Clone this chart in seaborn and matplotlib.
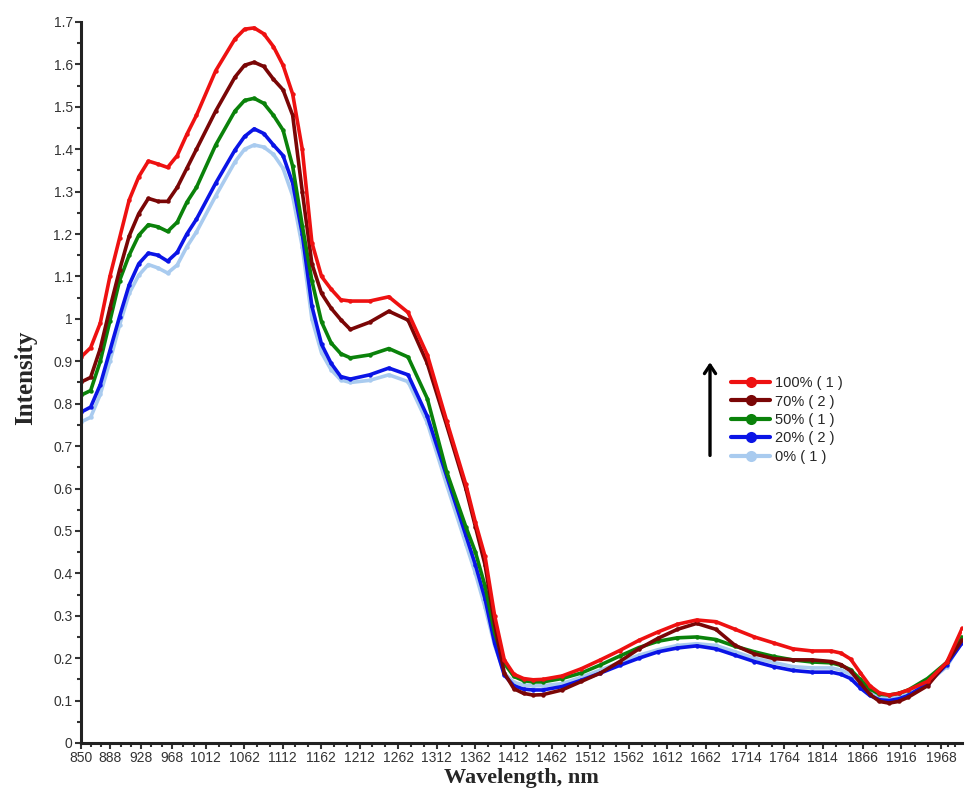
import pandas as pd
import seaborn as sns
import matplotlib.pyplot as plt
from matplotlib.lines import Line2D
from matplotlib.patches import FancyArrowPatch

# --- data ---
wavelength = [850, 862.5, 875, 887.5, 900, 912.5, 925, 937.5, 950, 962.5, 975, 987.5,
              1000, 1025, 1050, 1062.5, 1075, 1087.5, 1100, 1112.5, 1125, 1137.5,
              1150, 1162.5, 1175, 1187.5, 1200, 1225, 1250, 1275, 1300, 1325, 1350,
              1362.5, 1375, 1387.5, 1400, 1412.5, 1425, 1437.5, 1450, 1475, 1500,
              1525, 1550, 1575, 1600, 1625, 1650, 1675, 1700, 1725, 1750, 1775, 1800,
              1825, 1837.5, 1850, 1862.5, 1875, 1887.5, 1900, 1912.5, 1925, 1950,
              1975, 1995]

conc_100 = [0.910, 0.932, 0.990, 1.100, 1.190, 1.280, 1.335, 1.372, 1.365, 1.357, 1.385, 1.435,
            1.480, 1.585, 1.660, 1.683, 1.686, 1.672, 1.642, 1.598, 1.530, 1.400,
            1.180, 1.100, 1.070, 1.045, 1.042, 1.042, 1.052, 1.015, 0.915, 0.760, 0.610,
            0.520, 0.440, 0.300, 0.196, 0.162, 0.152, 0.149, 0.150, 0.158, 0.175,
            0.196, 0.218, 0.242, 0.262, 0.280, 0.290, 0.286, 0.268, 0.250, 0.236, 0.222, 0.217,
            0.217, 0.212, 0.198, 0.166, 0.135, 0.118, 0.113, 0.117, 0.125, 0.145,
            0.190, 0.270]
conc_70 = [0.851, 0.862, 0.930, 1.025, 1.115, 1.195, 1.248, 1.284, 1.277, 1.277, 1.310, 1.355,
           1.400, 1.490, 1.570, 1.598, 1.605, 1.595, 1.565, 1.540, 1.480, 1.300,
           1.130, 1.060, 1.025, 0.998, 0.975, 0.992, 1.018, 0.997, 0.895, 0.750, 0.600,
           0.510, 0.420, 0.280, 0.165, 0.128, 0.117, 0.113, 0.114, 0.125, 0.145,
           0.165, 0.192, 0.222, 0.247, 0.268, 0.282, 0.268, 0.230, 0.210, 0.199, 0.196, 0.196,
           0.192, 0.185, 0.170, 0.142, 0.115, 0.098, 0.094, 0.098, 0.108, 0.135,
           0.190, 0.243]
conc_50 = [0.820, 0.831, 0.900, 0.995, 1.090, 1.150, 1.197, 1.222, 1.217, 1.206, 1.228, 1.275,
           1.310, 1.410, 1.490, 1.515, 1.520, 1.508, 1.480, 1.445, 1.360, 1.220,
           1.090, 0.993, 0.943, 0.918, 0.908, 0.915, 0.930, 0.910, 0.812, 0.640, 0.510,
           0.450, 0.370, 0.260, 0.188, 0.157, 0.147, 0.144, 0.144, 0.152, 0.165,
           0.184, 0.205, 0.225, 0.240, 0.248, 0.250, 0.244, 0.228, 0.215, 0.204, 0.196, 0.191,
           0.189, 0.183, 0.173, 0.150, 0.128, 0.115, 0.113, 0.117, 0.125, 0.152,
           0.190, 0.250]
conc_20 = [0.780, 0.792, 0.845, 0.925, 1.005, 1.080, 1.130, 1.155, 1.150, 1.136, 1.157, 1.200,
           1.235, 1.320, 1.398, 1.430, 1.448, 1.437, 1.410, 1.385, 1.320, 1.200,
           1.030, 0.940, 0.895, 0.864, 0.858, 0.868, 0.884, 0.868, 0.770, 0.630, 0.490,
           0.420, 0.340, 0.235, 0.160, 0.135, 0.127, 0.125, 0.125, 0.133, 0.148,
           0.165, 0.183, 0.200, 0.215, 0.224, 0.229, 0.222, 0.207, 0.192, 0.180, 0.171, 0.167,
           0.167, 0.162, 0.152, 0.130, 0.112, 0.102, 0.100, 0.104, 0.112, 0.140,
           0.185, 0.236]
conc_0 = [0.757, 0.768, 0.822, 0.900, 0.985, 1.060, 1.103, 1.128, 1.120, 1.108, 1.127, 1.170,
          1.205, 1.290, 1.370, 1.400, 1.410, 1.405, 1.388, 1.355, 1.290, 1.170,
          1.000, 0.920, 0.880, 0.856, 0.850, 0.855, 0.868, 0.852, 0.755, 0.610, 0.470,
          0.400, 0.320, 0.230, 0.165, 0.143, 0.137, 0.135, 0.135, 0.140, 0.155,
          0.172, 0.190, 0.207, 0.220, 0.230, 0.234, 0.230, 0.215, 0.200, 0.190, 0.180, 0.177,
          0.177, 0.172, 0.162, 0.140, 0.120, 0.110, 0.107, 0.110, 0.116, 0.142,
          0.180, 0.240]

series_names = ['0% ( 1 )', '20% ( 2 )', '50% ( 1 )', '70% ( 2 )', '100% ( 1 )']
series_values = [conc_0, conc_20, conc_50, conc_70, conc_100]
series_colors = ['#a9cbef', '#0a14e6', '#0a820a', '#7a0606', '#ee1111']

tick_labels = [850, 888, 928, 968, 1012, 1062, 1112, 1162, 1212, 1262, 1312, 1362,
               1412, 1462, 1512, 1562, 1612, 1662, 1714, 1764, 1814, 1866, 1916, 1968]

# long-form table for seaborn
frames = []
for name, vals in zip(series_names, series_values):
    frames.append(pd.DataFrame({'Wavelength': wavelength, 'Intensity': vals, 'Sample': name}))
df = pd.concat(frames, ignore_index=True)

sns.set_style('white')
plt.rcParams['font.family'] = ['Liberation Sans', 'DejaVu Sans']

fig = plt.figure(figsize=(9.66, 7.9), dpi=100)
ax = fig.add_axes([0.0839, 0.0595, 0.9121, 0.9127])

palette = dict(zip(series_names, series_colors))
sns.lineplot(data=df, x='Wavelength', y='Intensity', hue='Sample', palette=palette,
             hue_order=series_names, marker='o', markersize=3.2, markeredgewidth=0,
             linewidth=2.6, legend=False, ax=ax, sort=False)

ax.set_xlim(850, 1995)
ax.set_ylim(0, 1.7)

# y ticks
yt = [round(0.1 * i, 1) for i in range(18)]
ax.set_yticks(yt)
ax.set_yticklabels(['0' if v == 0 else ('1' if v == 1 else f'{v:.1f}') for v in yt])
ax.set_yticks([0.05 + 0.1 * i for i in range(17)], minor=True)

# x ticks: labelled points plus two small ticks between them
ax.set_xticks(tick_labels)
ax.set_xticklabels([str(t) for t in tick_labels])
minor_x = []
for a, b in zip(tick_labels[:-1], tick_labels[1:]):
    minor_x += [a + (b - a) / 3, a + 2 * (b - a) / 3]
minor_x += [1968 + 9, 1968 + 18]
ax.set_xticks(minor_x, minor=True)

ax.tick_params(axis='both', which='major', direction='out', length=4, width=1.5,
               color='#333333', labelsize=10, labelcolor='#333333', pad=2,
               left=True, bottom=True)
ax.tick_params(axis='both', which='minor', direction='out', length=3, width=1.5,
               color='#333333', left=True, bottom=True)

for side in ['top', 'right']:
    ax.spines[side].set_visible(False)
for side in ['left', 'bottom']:
    ax.spines[side].set_linewidth(2.2)
    ax.spines[side].set_color('#222222')

ax.set_xlabel('Wavelength, nm', fontsize=16, fontweight='bold', family='Liberation Serif')
ax.set_ylabel('Intensity', fontsize=18, fontweight='bold', family='Liberation Serif')
ax.xaxis.set_label_coords(0.5, -0.034)
ax.yaxis.set_label_coords(-0.05, 0.506)

# legend, highest concentration on top
handles = []
for name, color in zip(series_names[::-1], series_colors[::-1]):
    handles.append(Line2D([0], [0], color=color, lw=3, marker='o', markersize=8,
                          markeredgewidth=0))
ax.legend(handles, series_names[::-1], loc='upper left', bbox_to_anchor=(0.749, 0.533),
          bbox_transform=fig.transFigure, frameon=False, fontsize=10.5, handlelength=2.7,
          handletextpad=0.3, labelspacing=0.3, borderpad=0)

# arrow pointing up next to the legend
fig.patches.append(FancyArrowPatch(
    (0.735, 0.42), (0.735, 0.545), transform=fig.transFigure,
    arrowstyle='->,head_width=4,head_length=6', lw=2.4, color='black',
    mutation_scale=1))

fig.savefig('out.png', dpi=100)
